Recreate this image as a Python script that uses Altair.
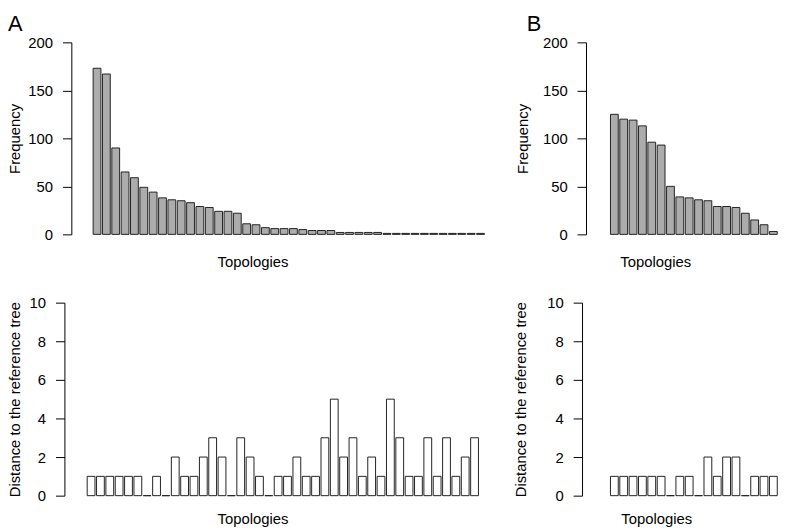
import altair as alt
import pandas as pd

# ---- data ----
a_freq = [173, 167, 90, 65, 59, 49, 44, 38, 36, 35, 33, 29, 28, 24, 24, 22,
          11, 10, 7, 6, 6, 6, 5, 4, 4, 4, 2, 2, 2, 2, 2,
          1, 1, 1, 1, 1, 1, 1, 1, 1, 1, 1]
a_dist = [1, 1, 1, 1, 1, 1, 0, 1, 0, 2, 1, 1, 2, 3, 2, 0, 3, 2, 1, 0, 1,
          1, 2, 1, 1, 3, 5, 2, 3, 1, 2, 1, 5, 3, 1, 1, 3, 1, 3, 1, 2, 3]
b_freq = [125, 120, 119, 113, 96, 93, 50, 39, 38, 36, 35, 29, 29, 28, 22, 15, 10, 3]
b_dist = [1, 1, 1, 1, 1, 1, 0, 1, 1, 0, 2, 1, 2, 2, 0, 1, 1, 1]

freq_ticks = [0, 50, 100, 150, 200]
dist_ticks = [0, 2, 4, 6, 8, 10]
panel_labels = ["A", "B"]
x_title = "Topologies"
freq_title = "Frequency"
dist_title = "Distance to the reference tree"

# ---- layout (page pixels; the chart origin sits at the 8px page margin) ----
W, H = 780, 523
M = 8
PPU = 7.875  # pixels per bar unit (bar width 1, gap 0.2)
FONT = "Liberation Sans"
FS = 15


def xscale(axis_px, first_bar_px, right_px):
    a, f, r = axis_px - M, first_bar_px - M, right_px - M
    d0 = 0.2 - (f - a) / PPU
    d1 = d0 + (r - a) / PPU
    return alt.Scale(domain=[d0, d1], range=[a, r], nice=False, zero=False)


def panel(vals, fill, xs, base_px, top_px, ymax, ticks, ytitle, axis_px,
          ytitle_px, xtitle_base_px):
    df = pd.DataFrame({"idx": list(range(len(vals))), "val": vals})
    return (
        alt.Chart(df)
        .transform_calculate(left="0.2 + 1.2*datum.idx", right="1.2 + 1.2*datum.idx")
        .mark_rect(fill=fill, stroke="#222222", strokeWidth=1)
        .encode(
            x=alt.X("left:Q", scale=xs,
                    axis=alt.Axis(title=x_title, orient="bottom",
                                  offset=(base_px - M) - H, domain=False,
                                  ticks=False, labels=False, grid=False,
                                  titleY=xtitle_base_px - base_px,
                                  titleBaseline="alphabetic")),
            x2="right:Q",
            y=alt.Y("val:Q",
                    scale=alt.Scale(domain=[0, ymax], range=[base_px - M, top_px - M],
                                    nice=False, zero=True),
                    axis=alt.Axis(title=ytitle, orient="left", offset=-(axis_px - M),
                                  values=ticks, tickSize=9, labelPadding=10,
                                  grid=False, labelOverlap=False,
                                  titleX=ytitle_px - axis_px, titleAngle=270,
                                  titleBaseline="alphabetic")),
            y2=alt.datum(0),
        )
    )


a_top = panel(a_freq, "#acacac", xscale(72, 94, 438), 234, 40, 200, freq_ticks,
              freq_title, 72, 19.5, 266)
b_top = panel(b_freq, "#acacac", xscale(592, 616.7, 732), 234, 40, 200, freq_ticks,
              freq_title, 592, 533, 266)
a_bot = panel(a_dist, "white", xscale(65, 88, 445), 498, 303, 10, dist_ticks,
              dist_title, 65, 19.5, 526)
b_bot = panel(b_dist, "white", xscale(588, 616.7, 738), 498, 303, 10, dist_ticks,
              dist_title, 588, 531, 526)

lab_df = pd.DataFrame({"t": panel_labels, "px": [0, 524]})
labels = (
    alt.Chart(lab_df)
    .mark_text(font=FONT, fontSize=22, align="left", baseline="alphabetic", color="black")
    .encode(text="t:N", x=alt.X("px:Q", scale=alt.Scale(domain=[0, W], range=[0, W]), axis=None),
            y=alt.value(20.5))
)

chart = (
    alt.layer(a_top, b_top, a_bot, b_bot, labels)
    .resolve_scale(x="independent", y="independent")
    .resolve_axis(x="independent", y="independent")
    .properties(width=W, height=H, padding=0,
                autosize=alt.AutoSizeParams(type="none"), background="white")
    .configure_view(stroke=None)
    .configure_axis(labelFont=FONT, titleFont=FONT, labelFontSize=FS, titleFontSize=FS,
                    titleFontWeight="normal", labelColor="black", titleColor="black",
                    domainColor="black", tickColor="black", domainWidth=1, tickWidth=1)
)

chart.save("out.html", embed_options={"renderer": "svg", "actions": False})
